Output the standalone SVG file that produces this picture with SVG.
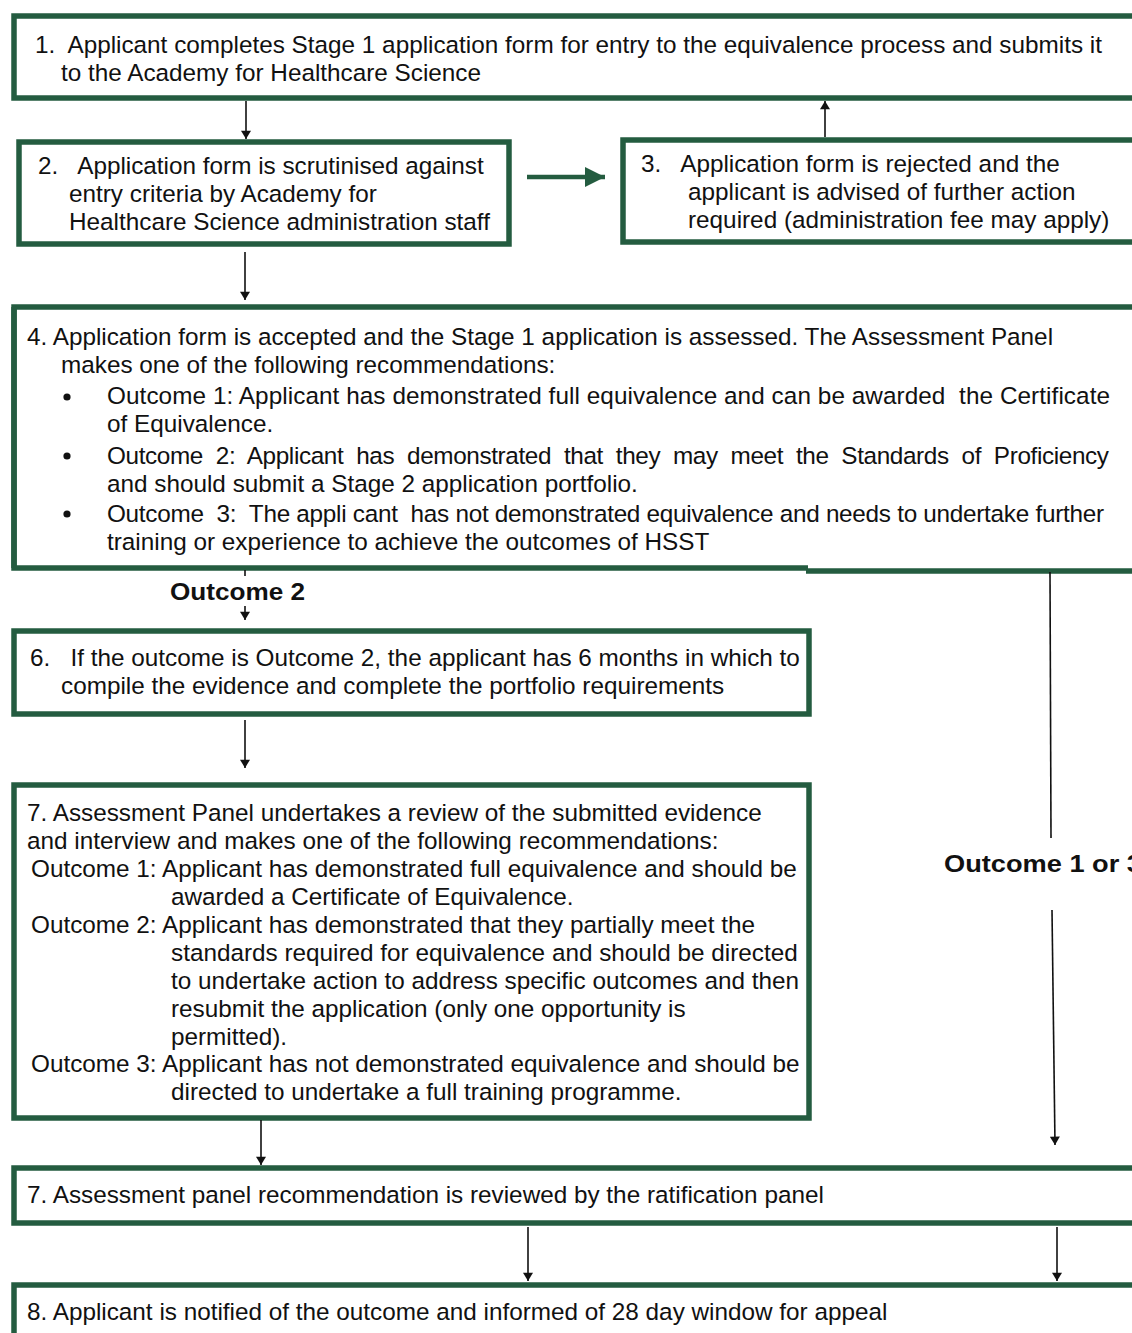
<svg xmlns="http://www.w3.org/2000/svg" width="1132" height="1333" viewBox="0 0 1132 1333">
<style>
.box{fill:#fff;stroke:#245c40;stroke-width:5.5}
.t{font-family:"Liberation Sans",Arial,sans-serif;font-size:24.3px;fill:#111;white-space:pre}
.b{font-family:"Liberation Sans",Arial,sans-serif;font-size:24px;font-weight:bold;fill:#111}
.c{stroke:#111;stroke-width:1.6;fill:none}
</style>
<defs>
<marker id="ah" viewBox="0 0 10 12" refX="10" refY="6" markerWidth="11" markerHeight="10" markerUnits="userSpaceOnUse" orient="auto"><path d="M0,0 L10,6 L0,12 z" fill="#111"/></marker>
<marker id="gh" viewBox="0 0 10 10" refX="10" refY="5" markerWidth="4.5" markerHeight="5" orient="auto"><path d="M0,0 L10,5 L0,10 z" fill="#245c40"/></marker>
</defs>
<rect width="1132" height="1333" fill="#fff"/>

<g id="node1">
<rect class="box" x="14" y="16" width="1130" height="82"/>
<text class="t" x="35" y="53" xml:space="preserve">1.  Applicant completes Stage 1 application form for entry to the equivalence process and submits it</text>
<text class="t" x="61" y="81">to the Academy for Healthcare Science</text>
</g>

<g id="node2">
<rect class="box" x="19" y="142" width="490" height="102"/>
<text class="t" x="38" y="174" xml:space="preserve">2.   Application form is scrutinised against</text>
<text class="t" x="69" y="202">entry criteria by Academy for</text>
<text class="t" x="69" y="230">Healthcare Science administration staff</text>
</g>

<g id="node3">
<rect class="box" x="623" y="140" width="520" height="102"/>
<text class="t" x="641" y="172" xml:space="preserve">3.   Application form is rejected and the</text>
<text class="t" x="688" y="200">applicant is advised of further action</text>
<text class="t" x="688" y="228">required (administration fee may apply)</text>
</g>

<g id="node4">
<path class="box" d="M1144,307 H14 V568 H808 M806,571 H1144" />
<path d="M14,307 V568" class="box" fill="none"/>
<text class="t" x="27" y="345">4. Application form is accepted and the Stage 1 application is assessed. The Assessment Panel</text>
<text class="t" x="61" y="373">makes one of the following recommendations:</text>
<circle cx="67" cy="397" r="3.6" fill="#111"/>
<text class="t" x="107" y="404" textLength="1003" lengthAdjust="spacing" xml:space="preserve">Outcome 1: Applicant has demonstrated full equivalence and can be awarded  the Certificate</text>
<text class="t" x="107" y="432">of Equivalence.</text>
<circle cx="67" cy="456" r="3.6" fill="#111"/>
<text class="t" x="107" y="464" textLength="1002" lengthAdjust="spacing" xml:space="preserve">Outcome  2:  Applicant  has  demonstrated  that  they  may  meet  the  Standards  of  Proficiency</text>
<text class="t" x="107" y="492">and should submit a Stage 2 application portfolio.</text>
<circle cx="67" cy="514" r="3.6" fill="#111"/>
<text class="t" x="107" y="522" textLength="997" lengthAdjust="spacing" xml:space="preserve">Outcome  3:  The appli cant  has not demonstrated equivalence and needs to undertake further</text>
<text class="t" x="107" y="550">training or experience to achieve the outcomes of HSST</text>
</g>

<g id="node6">
<rect class="box" x="14" y="631" width="795" height="83"/>
<text class="t" x="30" y="666" xml:space="preserve">6.   If the outcome is Outcome 2, the applicant has 6 months in which to</text>
<text class="t" x="61" y="694">compile the evidence and complete the portfolio requirements</text>
</g>

<g id="node7">
<rect class="box" x="14" y="785" width="795" height="333"/>
<text class="t" x="27" y="821">7. Assessment Panel undertakes a review of the submitted evidence</text>
<text class="t" x="27" y="849">and interview and makes one of the following recommendations:</text>
<text class="t" x="31" y="877">Outcome 1: Applicant has demonstrated full equivalence and should be</text>
<text class="t" x="171" y="905">awarded a Certificate of Equivalence.</text>
<text class="t" x="31" y="933">Outcome 2: Applicant has demonstrated that they partially meet the</text>
<text class="t" x="171" y="961">standards required for equivalence and should be directed</text>
<text class="t" x="171" y="989">to undertake action to address specific outcomes and then</text>
<text class="t" x="171" y="1017">resubmit the application (only one opportunity is</text>
<text class="t" x="171" y="1045">permitted).</text>
<text class="t" x="31" y="1072">Outcome 3: Applicant has not demonstrated equivalence and should be</text>
<text class="t" x="171" y="1100">directed to undertake a full training programme.</text>
</g>

<g id="node7b">
<rect class="box" x="14" y="1168" width="1130" height="55"/>
<text class="t" x="27" y="1203">7. Assessment panel recommendation is reviewed by the ratification panel</text>
</g>

<g id="node8">
<rect class="box" x="14" y="1285" width="1130" height="80"/>
<text class="t" x="27" y="1320">8. Applicant is notified of the outcome and informed of 28 day window for appeal</text>
</g>

<g id="connectors">
<line class="c" x1="246" y1="101" x2="246" y2="139" marker-end="url(#ah)"/>
<line class="c" x1="825" y1="137" x2="825" y2="101" marker-end="url(#ah)"/>
<line x1="527" y1="177" x2="605" y2="177" stroke="#245c40" stroke-width="4.5" marker-end="url(#gh)"/>
<line class="c" x1="245" y1="252" x2="245" y2="300" marker-end="url(#ah)"/>
<line class="c" x1="245" y1="570" x2="245" y2="576"/>
<text class="b" x="170" y="600" textLength="135" lengthAdjust="spacingAndGlyphs">Outcome 2</text>
<line class="c" x1="245" y1="606" x2="245" y2="620" marker-end="url(#ah)"/>
<line class="c" x1="245" y1="720" x2="245" y2="768" marker-end="url(#ah)"/>
<line class="c" x1="1050" y1="572" x2="1051" y2="838"/>
<text class="b" x="944" y="872" textLength="198" lengthAdjust="spacingAndGlyphs">Outcome 1 or 3</text>
<line class="c" x1="1052" y1="910" x2="1055" y2="1145" marker-end="url(#ah)"/>
<line class="c" x1="261" y1="1120" x2="261" y2="1165" marker-end="url(#ah)"/>
<line class="c" x1="528" y1="1227" x2="528" y2="1281" marker-end="url(#ah)"/>
<line class="c" x1="1057" y1="1227" x2="1057" y2="1281" marker-end="url(#ah)"/>
</g>
</svg>
